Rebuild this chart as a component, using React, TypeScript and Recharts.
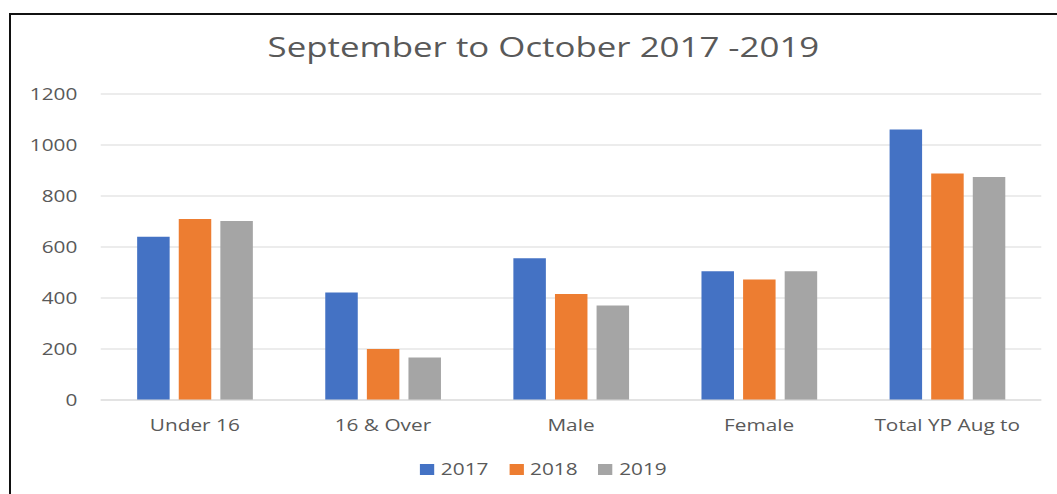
import React from 'react';
import { BarChart, Bar, XAxis, YAxis, CartesianGrid, Legend } from 'recharts';

const CATEGORIES = ['Under 16', '16 & Over', 'Male', 'Female', 'Total YP Aug to'];
const VALUES_2017 = [640, 422, 556, 505, 1061];
const VALUES_2018 = [710, 200, 416, 473, 888];
const VALUES_2019 = [702, 167, 371, 505, 875];
const Y_TICKS = [0, 200, 400, 600, 800, 1000, 1200];

const SERIES = [
  { key: 'y2017', label: '2017', color: '#4472C4' },
  { key: 'y2018', label: '2018', color: '#ED7D31' },
  { key: 'y2019', label: '2019', color: '#A5A5A5' },
];

const data = CATEGORIES.map((name, i) => ({
  name,
  y2017: VALUES_2017[i],
  y2018: VALUES_2018[i],
  y2019: VALUES_2019[i],
}));

// the source picture is stretched sideways, so the chart is drawn narrow and scaled up
const SCALE_X = 1.3;
const CHART_W = 813;
const CHART_H = 494;
const TEXT = '#595959';
const FONT = '"Open Sans", sans-serif';

function LegendRow() {
  return (
    <div
      style={{
        height: 40,
        paddingTop: 4,
        paddingLeft: 35,
        boxSizing: 'border-box',
        display: 'flex',
        justifyContent: 'center',
        fontFamily: FONT,
        fontSize: 16,
        color: TEXT,
      }}
    >
      {SERIES.map((s) => (
        <div key={s.key} style={{ display: 'flex', alignItems: 'center', height: 22, margin: '0 8px' }}>
          <span style={{ width: 11, height: 11, background: s.color, marginRight: 5 }} />
          <span>{s.label}</span>
        </div>
      ))}
    </div>
  );
}

export default function App() {
  return (
    <div style={{ position: 'absolute', left: 0, top: 0, width: 1057, height: 494, overflow: 'hidden', background: '#fff' }}>
      <div
        style={{
          position: 'absolute',
          left: 9,
          top: 13,
          width: 1048,
          height: 481,
          boxSizing: 'border-box',
          borderLeft: '2px solid #111',
          borderTop: '2px solid #111',
        }}
      />
      <div
        style={{
          position: 'absolute',
          left: 0,
          top: 0,
          width: CHART_W,
          height: CHART_H,
          transform: `scaleX(${SCALE_X})`,
          transformOrigin: 'left top',
        }}
      >
        <div
          style={{
            position: 'absolute',
            left: 0,
            top: 28,
            width: 836,
            textAlign: 'center',
            fontFamily: FONT,
            fontSize: 26.8,
            color: TEXT,
            whiteSpace: 'nowrap',
          }}
        >
          September to October 2017 -2019
        </div>
        <BarChart
          width={CHART_W}
          height={CHART_H}
          data={data}
          margin={{ top: 94, right: 12, bottom: 0, left: 0 }}
          barSize={25}
          barGap={7}
        >
          <CartesianGrid vertical={false} stroke="#d9d9d9" />
          <XAxis
            dataKey="name"
            height={54}
            interval={0}
            tickLine={false}
            axisLine={{ stroke: '#d9d9d9' }}
            tickMargin={14}
            tick={{ fill: TEXT, fontSize: 16, fontFamily: FONT }}
          />
          <YAxis
            width={77.5}
            domain={[0, 1200]}
            ticks={Y_TICKS}
            tickLine={false}
            axisLine={false}
            tickMargin={12}
            tick={{ fill: TEXT, fontSize: 16, fontFamily: FONT }}
          />
          <Legend verticalAlign="bottom" height={40} content={() => <LegendRow />} />
          {SERIES.map((s) => (
            <Bar key={s.key} dataKey={s.key} name={s.label} fill={s.color} isAnimationActive={false} />
          ))}
        </BarChart>
      </div>
    </div>
  );
}
